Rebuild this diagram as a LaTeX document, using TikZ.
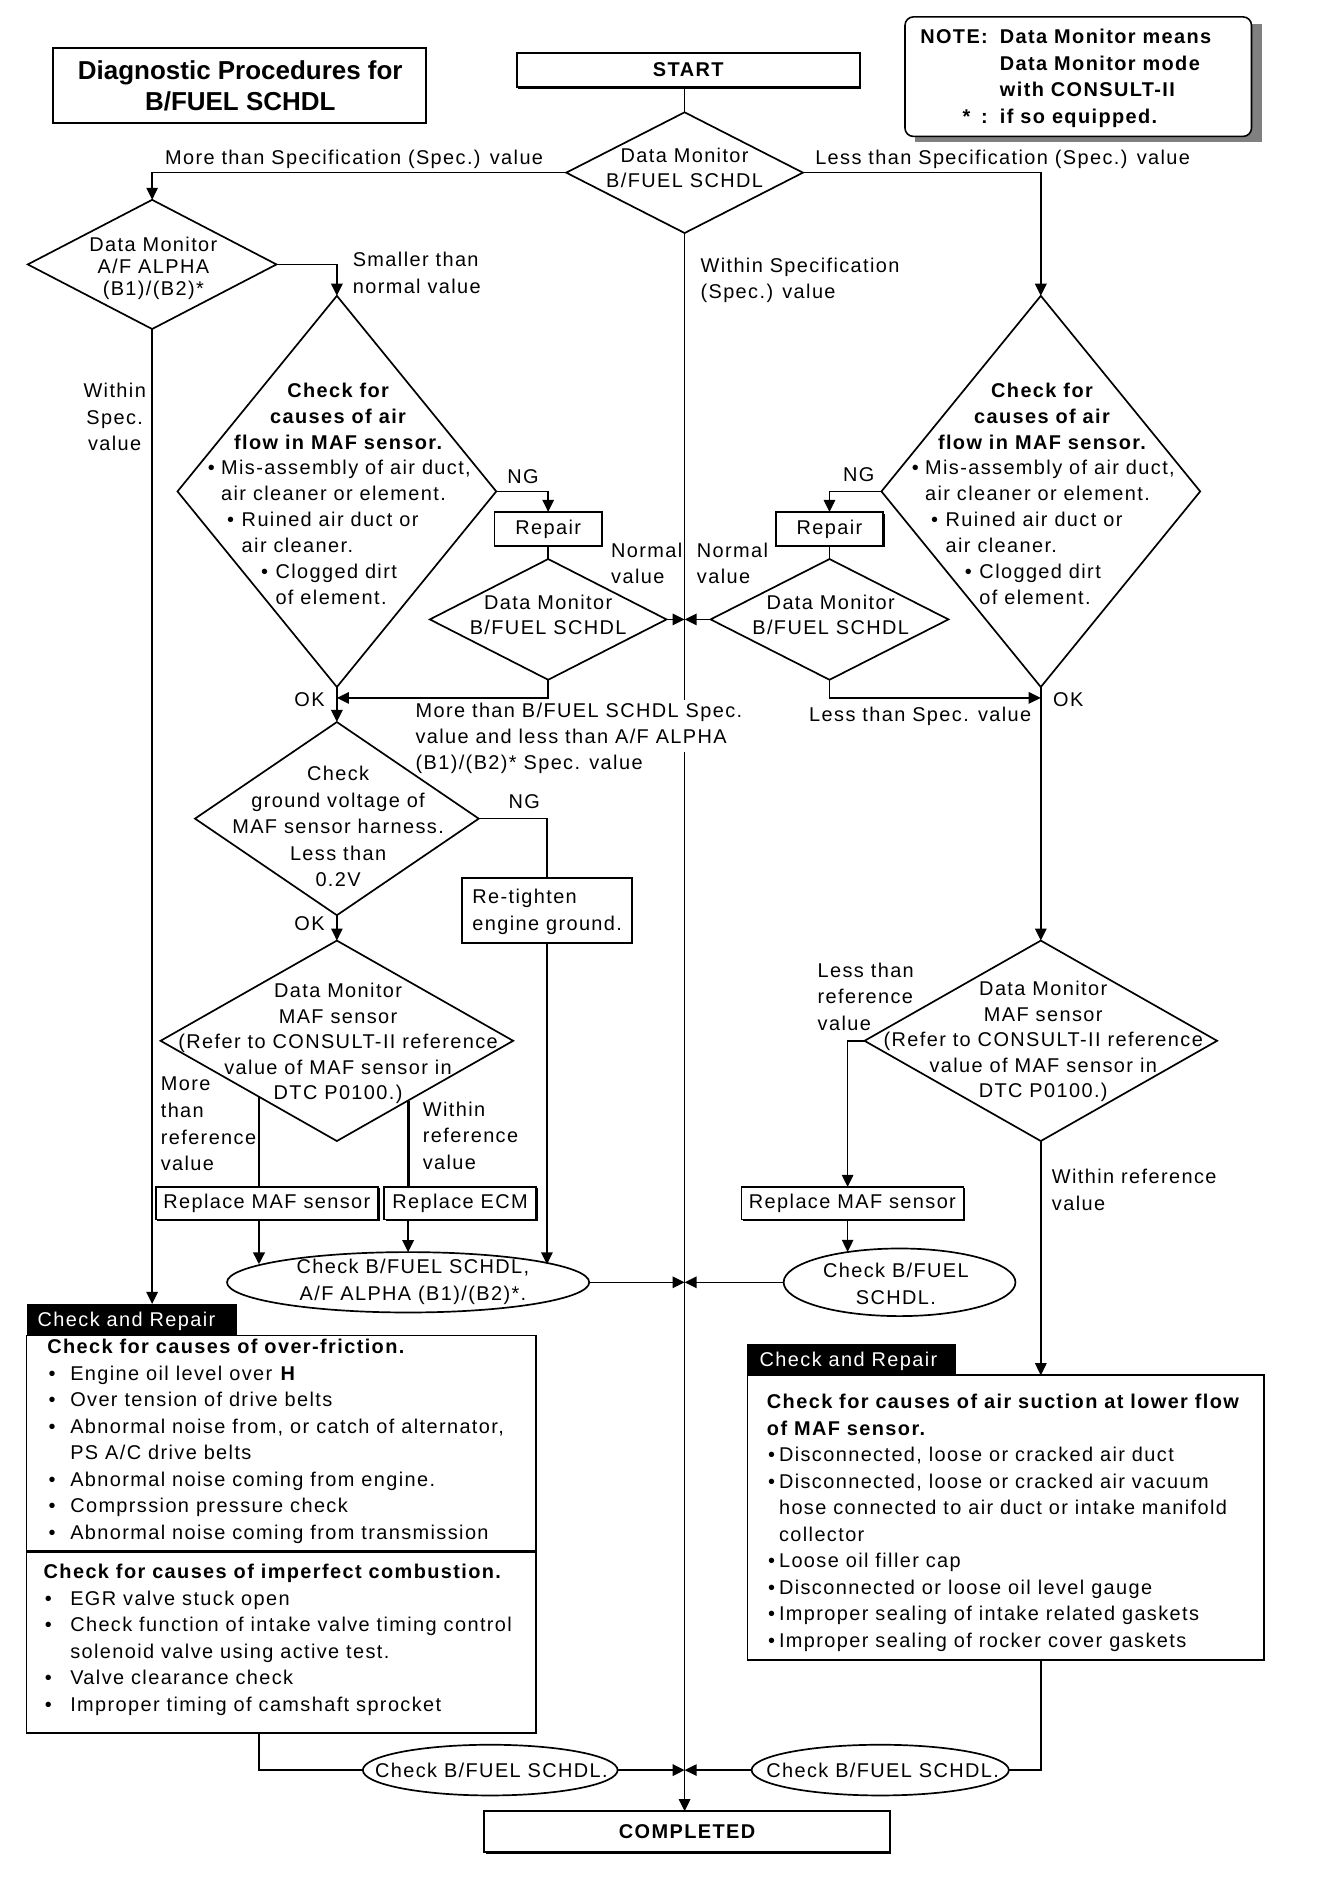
\documentclass[tikz,border=0pt]{standalone}
\usepackage{fontspec}
\setmainfont{Liberation Sans}[LetterSpace=7]
\newfontfamily\titlefont{Liberation Sans}
\usetikzlibrary{shapes.geometric,arrows.meta,shadows}
\newcommand\fs{\fontsize{16.5}{22}\selectfont}
\newcommand\blkc[2][1]{\renewcommand\arraystretch{#1}\begin{tabular}[t]{@{}c@{}}#2\end{tabular}}
\newcommand\blkl[2][1]{\renewcommand\arraystretch{#1}\begin{tabular}[t]{@{}l@{}}#2\end{tabular}}
\newcommand\bul[1][11pt]{\makebox[#1][l]{\textbullet}}
\tikzset{
 txt/.style={font=\fs, inner sep=0pt},
 ln/.style={line width=1.3pt},
 arr/.style={line width=1.3pt, -{Triangle[length=10pt,width=9.5pt]}},
 dia/.style={diamond, draw, line width=1.4pt, inner sep=0pt, outer sep=0pt},
 ell/.style={ellipse, draw, line width=1.4pt, inner sep=0pt, outer sep=0pt},
 box/.style={rectangle, draw, line width=1.4pt, fill=white, inner sep=0pt, outer sep=0pt, font=\fs},
 sbox/.style={box, drop shadow={shadow xshift=1.3pt, shadow yshift=-1.3pt, opacity=1, fill=black}},
 tabbox/.style={rectangle, fill=black, inner sep=0pt, outer sep=0pt},
 crbox/.style={rectangle, draw, line width=1.4pt, inner sep=0pt, outer sep=0pt},
}
\begin{document}
\begin{tikzpicture}[x=1pt,y=-1pt]
\useasboundingbox (0,0) rectangle (1100,1562);
\fill[white] (0,0) rectangle (1100,1562);

% title
\node[box, line width=1.6pt, minimum width=309pt, minimum height=62pt] (TB) at (198.5,71) {};
\node[inner sep=0pt, anchor=base, font={\titlefont\bfseries\fontsize{21.5}{26}\selectfont}] (TBt) at (199,65.7) {\blkc{Diagnostic Procedures for\\B/FUEL SCHDL}};

% start
\node[sbox, minimum width=284pt, minimum height=28pt, font=\fs\bfseries] (START) at (570,58) {START};

% note
\fill[black!50] (758,20) rectangle (1045,118);
\node[draw, line width=1.3pt, rounded corners=7pt, fill=white, minimum width=287pt, minimum height=99pt, inner sep=0pt] (NOTE) at (893,63.5) {};
\node[txt, anchor=base west, font=\fs\bfseries] (NOTEt) at (762,36) {\begin{tabular}[t]{@{}r@{\hspace{10pt}}l@{}}NOTE: & Data Monitor means\\ & Data Monitor mode\\ & with CONSULT-II\\\relax {*}\hspace{9pt}: & if so equipped.\end{tabular}};

% diamonds and boxes
\node[dia, minimum width=196pt, minimum height=100pt] (D1) at (567,143) {};
\node[txt, anchor=base] (D1t) at (567,134.5) {\blkc[0.95]{Data Monitor\\B/FUEL SCHDL}};

\node[dia, minimum width=206pt, minimum height=107pt] (D2) at (126,219) {};
\node[txt, anchor=base] (D2t) at (127,208.5) {\blkc[0.82]{Data Monitor\\A/F ALPHA\\(B1)/(B2)*}};

\node[dia, minimum width=264pt, minimum height=324pt] (D3) at (279,407) {};
\node[txt, anchor=base, font=\fs\bfseries] (D3h) at (280,329) {\blkc[0.977]{Check for\\causes of air\\flow in MAF sensor.}};
\node[txt, anchor=base west] (D3l) at (172,393) {\blkl[0.977]{\bul Mis-assembly of air duct,\\\hspace*{11pt}air cleaner or element.\\\hspace*{16pt}\bul[12pt]Ruined air duct or\\\hspace*{28pt}air cleaner.\\\hspace*{44pt}\bul[12pt]Clogged dirt\\\hspace*{56pt}of element.}};

\node[sbox, minimum width=89pt, minimum height=28pt] (R1) at (454,438) {Repair};
\node[dia, minimum width=196pt, minimum height=100pt] (D4) at (454,513) {};
\node[txt, anchor=base] (D4t) at (454,504.5) {\blkc[0.95]{Data Monitor\\B/FUEL SCHDL}};

\node[dia, minimum width=235pt, minimum height=160pt] (D5) at (279,678) {};
\node[txt, anchor=base] (D5t) at (280,646.5) {\blkc{Check\\ground voltage of\\MAF sensor harness.\\Less than\\0.2V}};

\node[box, minimum width=141pt, minimum height=54pt] (RT) at (453,754) {};
\node[txt, anchor=base west] (RTt) at (391,748.5) {\blkl{Re-tighten\\engine ground.}};

\node[dia, minimum width=292pt, minimum height=166pt] (D6) at (279,862) {};
\node[txt, anchor=base] (D6t) at (280,826.5) {\blkc[0.96]{Data Monitor\\MAF sensor\\(Refer to CONSULT-II reference\\value of MAF sensor in\\DTC P0100.)}};

\node[sbox, minimum width=184pt, minimum height=27pt] (RM1) at (221,996.5) {Replace MAF sensor};
\node[sbox, minimum width=126pt, minimum height=27pt] (RE) at (381,996.5) {Replace ECM};

\node[ell, minimum width=300pt, minimum height=50pt] (E1) at (338,1062) {};
\node[txt, anchor=base] (E1t) at (342,1055) {\blkc{Check B/FUEL SCHDL,\\A/F ALPHA (B1)/(B2)*.}};

\node[dia, minimum width=264pt, minimum height=324pt] (D7) at (862,407) {};
\node[txt, anchor=base, font=\fs\bfseries] (D7h) at (863,329) {\blkc[0.977]{Check for\\causes of air\\flow in MAF sensor.}};
\node[txt, anchor=base west] (D7l) at (755,393) {\blkl[0.977]{\bul Mis-assembly of air duct,\\\hspace*{11pt}air cleaner or element.\\\hspace*{16pt}\bul[12pt]Ruined air duct or\\\hspace*{28pt}air cleaner.\\\hspace*{44pt}\bul[12pt]Clogged dirt\\\hspace*{56pt}of element.}};

\node[sbox, minimum width=89pt, minimum height=28pt] (R2) at (687,438) {Repair};
\node[dia, minimum width=197pt, minimum height=100pt] (D8) at (687,513) {};
\node[txt, anchor=base] (D8t) at (688,504.5) {\blkc[0.95]{Data Monitor\\B/FUEL SCHDL}};

\node[dia, minimum width=292pt, minimum height=166pt] (D9) at (862,862) {};
\node[txt, anchor=base] (D9t) at (864,824.5) {\blkc[0.96]{Data Monitor\\MAF sensor\\(Refer to CONSULT-II reference\\value of MAF sensor in\\DTC P0100.)}};

\node[sbox, minimum width=184pt, minimum height=27pt] (RM2) at (706,996.5) {Replace MAF sensor};
\node[ell, minimum width=192pt, minimum height=56pt] (E2) at (745,1062) {};
\node[txt, anchor=base] (E2t) at (742,1058) {\blkc{Check B/FUEL\\SCHDL.}};

% check and repair left
\node[crbox, minimum width=422pt, minimum height=329pt] (CR1) at (233,1270.5) {};
\node[tabbox, minimum width=174pt, minimum height=26pt] (CR1tab) at (109,1093) {};
\node[txt, anchor=base west, text=white] (CR1tt) at (31,1098.5) {Check and Repair};
\coordinate (dv) at (0,1285);
\draw[line width=2.2pt] (CR1.west |- dv) -- (CR1.east |- dv);
\node[txt, anchor=base west, font=\fs\bfseries] (CR1h1) at (39,1121) {Check for causes of over-friction.};
\node[txt, anchor=base west] (CR1l1) at (40,1143) {\blkl{\bul[18pt]Engine oil level over \textbf{H}\\ \bul[18pt]Over tension of drive belts\\ \bul[18pt]Abnormal noise from, or catch of alternator,\\ \hspace*{18pt}PS A/C drive belts\\ \bul[18pt]Abnormal noise coming from engine.\\ \bul[18pt]Comprssion pressure check\\ \bul[18pt]Abnormal noise coming from transmission}};
\node[txt, anchor=base west, font=\fs\bfseries] (CR1h2) at (36,1307.5) {Check for causes of imperfect combustion.};
\node[txt, anchor=base west] (CR1l2) at (37,1329.5) {\blkl{\bul[21pt]EGR valve stuck open\\ \bul[21pt]Check function of intake valve timing control\\ \hspace*{21pt}solenoid valve using active test.\\ \bul[21pt]Valve clearance check\\ \bul[21pt]Improper timing of camshaft sprocket}};

% check and repair right
\node[crbox, minimum width=428pt, minimum height=236pt] (CR2) at (833,1257) {};
\node[tabbox, minimum width=173pt, minimum height=26pt] (CR2tab) at (705.5,1126) {};
\node[txt, anchor=base west, text=white] (CR2tt) at (629,1131.5) {Check and Repair};
\node[txt, anchor=base west, font=\fs\bfseries] (CR2h) at (635,1166.5) {\blkl{Check for causes of air suction at lower flow\\of MAF sensor.}};
\node[txt, anchor=base west] (CR2l) at (636,1210.5) {\blkl{\bul[9pt]Disconnected, loose or cracked air duct\\ \bul[9pt]Disconnected, loose or cracked air vacuum\\ \hspace*{9pt}hose connected to air duct or intake manifold\\ \hspace*{9pt}collector\\ \bul[9pt]Loose oil filler cap\\ \bul[9pt]Disconnected or loose oil level gauge\\ \bul[9pt]Improper sealing of intake related gaskets\\ \bul[9pt]Improper sealing of rocker cover gaskets}};

% bottom ellipses and completed
\node[ell, minimum width=211pt, minimum height=42pt] (E3) at (406,1466) {};
\node[txt] (E3t) at (407,1466) {Check B/FUEL SCHDL.};
\node[ell, minimum width=213pt, minimum height=42pt] (E4) at (729,1466) {};
\node[txt] (E4t) at (731,1466) {Check B/FUEL SCHDL.};
\node[sbox, minimum width=336pt, minimum height=34pt, font=\fs\bfseries] (COMP) at (569,1517) {COMPLETED};

% coordinates
\coordinate (c1) at (567,513);
\coordinate (c2) at (567,1062);
\coordinate (c3) at (567,1466);
\coordinate (j1) at (279,578);
\coordinate (j2) at (862,578);
\coordinate (m1) at (214.5,908.2);
\coordinate (m2) at (338,911.5);
\coordinate (m3) at (702,862);

% connectors
\draw[ln] (D1.north |- START.south) -- (D1.north);
\draw[arr] (D1.south) -- (D1.south |- COMP.north);
\draw[arr] (D1.west) -| (D2.north);
\draw[arr] (D1.east) -| (D7.north);
\draw[arr] (D2.east) -| (D3.north);
\draw[arr] (D2.south) -- (D2.south |- CR1tab.north);
\draw[arr] (D3.east) -| (R1.north);
\draw[ln] (R1.south) -- (D4.north);
\draw[arr] (D4.east) -- (c1);
\draw[arr] (D4.south) |- (j1);
\draw[arr] (D3.south) -- (D5.north);
\draw[ln] (D5.east) -| (RT.north);
\draw[arr] (RT.south) -- (RT.south |- E1.7.95);
\draw[arr] (D5.south) -- (D6.north);
\draw[line width=2.4pt] (m1) -- (m1 |- RM1.north);
\draw[line width=2.4pt] (m2) -- (m2 |- RE.north);
\draw[arr, line width=2.2pt] (m1 |- RM1.south) -- (m1 |- E1.173.4);
\draw[arr, line width=1.6pt] (m2 |- RE.south) -- (E1.north);
\draw[arr] (E1.east) -- (c2);
\draw[arr] (D7.west) -| (R2.north);
\draw[ln] (R2.south) -- (D8.north);
\draw[arr] (D8.west) -- (c1);
\draw[arr] (D8.south) |- (j2);
\draw[arr] (D7.south) -- (D9.north);
\draw[arr] (D9.west) -| (m3 |- RM2.north);
\draw[arr] (m3 |- RM2.south) -- (m3 |- E2.149.8);
\draw[arr] (E2.west) -- (c2);
\draw[arr] (D9.south) -- (D9.south |- CR2.north);
\draw[ln] (m1 |- CR1.south) |- (E3.west);
\draw[arr, line width=2pt] (E3.east) -- (c3);
\draw[ln] (D9.south |- CR2.south) |- (E4.east);
\draw[arr] (E4.west) -- (c3);

% labels
\node[txt, anchor=base east] (Lmore) at (450,136.5) {More than Specification (Spec.) value};
\node[txt, anchor=base west] (Lless) at (675,136.5) {Less than Specification (Spec.) value};
\node[txt, anchor=base west] (Lwin) at (580,225.5) {\blkl{Within Specification\\(Spec.) value}};
\node[txt, anchor=base west] (Lsm) at (292,221) {\blkl{Smaller than\\normal value}};
\node[txt, anchor=base] (Lwin2) at (95,329.5) {\blkc{Within\\Spec.\\value}};
\node[txt, anchor=base west] (NG1) at (420,400.5) {NG};
\node[txt, anchor=base west] (NG2) at (698,398.5) {NG};
\node[txt, anchor=base west] (Nv1) at (506,461.5) {\blkl{Normal\\value}};
\node[txt, anchor=base west] (Nv2) at (577,461.5) {\blkl{Normal\\value}};
\node[txt, anchor=base west, fill=white] (Lmt) at (344,594.5) {\blkl[0.977]{More than B/FUEL SCHDL Spec.\\value and less than A/F ALPHA}};
\node[txt, anchor=base west] (Lmt2) at (344,637.5) {(B1)/(B2)* Spec. value};
\node[txt, anchor=base west] (Llts) at (670,597.5) {Less than Spec. value};
\node[txt, anchor=base east] (OK1) at (269,585.5) {OK};
\node[txt, anchor=base west] (OK2) at (872,585.5) {OK};
\node[txt, anchor=base west] (NG3) at (421,669.5) {NG};
\node[txt, anchor=base east] (OK3) at (269,770.5) {OK};
\node[txt, anchor=base west] (Lmr) at (133,903.5) {\blkl{More\\than\\reference\\value}};
\node[txt, anchor=base west] (Lwr) at (350,924.5) {\blkl{Within\\reference\\value}};
\node[txt, anchor=base west] (Llr) at (677,809.5) {\blkl{Less than\\reference\\value}};
\node[txt, anchor=base west] (Lwr2) at (871,980.5) {\blkl{Within reference\\value}};
\end{tikzpicture}
\end{document}
